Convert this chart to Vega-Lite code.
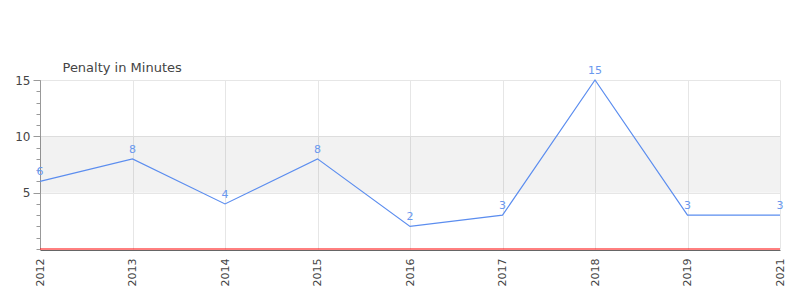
{
  "$schema": "https://vega.github.io/schema/vega-lite/v6.json",
  "autosize": "none",
  "width": 740,
  "height": 169,
  "padding": {"left": 40, "top": 80, "right": 20, "bottom": 51},
  "background": "white",
  "config": {
    "font": "DejaVu Sans",
    "view": {"stroke": null},
    "axis": {"labelFont": "DejaVu Sans", "titleFont": "DejaVu Sans"}
  },
  "datasets": {
    "penalty": [
      {"year": "2012", "minutes": 6},
      {"year": "2013", "minutes": 8},
      {"year": "2014", "minutes": 4},
      {"year": "2015", "minutes": 8},
      {"year": "2016", "minutes": 2},
      {"year": "2017", "minutes": 3},
      {"year": "2018", "minutes": 15},
      {"year": "2019", "minutes": 3},
      {"year": "2021", "minutes": 3}
    ],
    "bands": [{"lo": 5, "hi": 10}],
    "baseline": [{"value": 0}]
  },
  "resolve": {"axis": {"y": "independent"}},
  "layer": [
    {
      "data": {"name": "bands"},
      "mark": {"type": "rect", "color": "#000", "opacity": 0.05},
      "encoding": {
        "y": {"field": "lo", "type": "quantitative", "scale": {"domain": [0, 15], "nice": false}, "axis": null},
        "y2": {"field": "hi"}
      }
    },
    {
      "data": {"name": "penalty"},
      "mark": {"type": "line", "color": "#5b8def", "strokeWidth": 1.2},
      "encoding": {
        "x": {
          "field": "year", "type": "ordinal",
          "scale": {"type": "point", "padding": 0},
          "axis": {
            "title": null, "labelAngle": 270, "labelAlign": "right", "labelBaseline": "middle",
            "labelPadding": 8, "ticks": false, "labelFontSize": 11, "labelColor": "#444",
            "domainColor": "#666", "domainWidth": 1, "grid": true, "gridColor": "#e6e6e6",
            "offset": 1
          }
        },
        "y": {
          "field": "minutes", "type": "quantitative",
          "scale": {"domain": [0, 15], "nice": false},
          "axis": {
            "values": [5, 10, 15], "tickSize": 7, "tickColor": "#999", "domainColor": "#999",
            "labelFontSize": 12, "labelColor": "#444", "labelPadding": 3,
            "grid": true, "gridColor": "#e6e6e6",
            "title": "Penalty in Minutes", "titleAngle": 0, "titleAlign": "left",
            "titleBaseline": "alphabetic", "titleX": 22, "titleY": -9,
            "titleFontSize": 13, "titleFontWeight": "normal", "titleColor": "#444"
          }
        }
      }
    },
    {
      "data": {"name": "penalty"},
      "mark": {"type": "text", "color": "#6a98ee", "fontSize": 11, "dy": -9},
      "encoding": {
        "x": {"field": "year", "type": "ordinal"},
        "y": {"field": "minutes", "type": "quantitative", "axis": null},
        "text": {"field": "minutes", "type": "quantitative"}
      }
    },
    {
      "data": {"name": "baseline"},
      "mark": {"type": "rule", "color": "#ff0000", "strokeWidth": 1},
      "encoding": {
        "y": {
          "field": "value", "type": "quantitative",
          "axis": {
            "values": [0, 1, 2, 3, 4, 5, 6, 7, 8, 9, 10, 11, 12, 13, 14, 15],
            "tickSize": 4, "tickColor": "#999", "labels": false, "domain": false,
            "grid": false, "title": null, "orient": "left"
          }
        }
      }
    }
  ]
}
